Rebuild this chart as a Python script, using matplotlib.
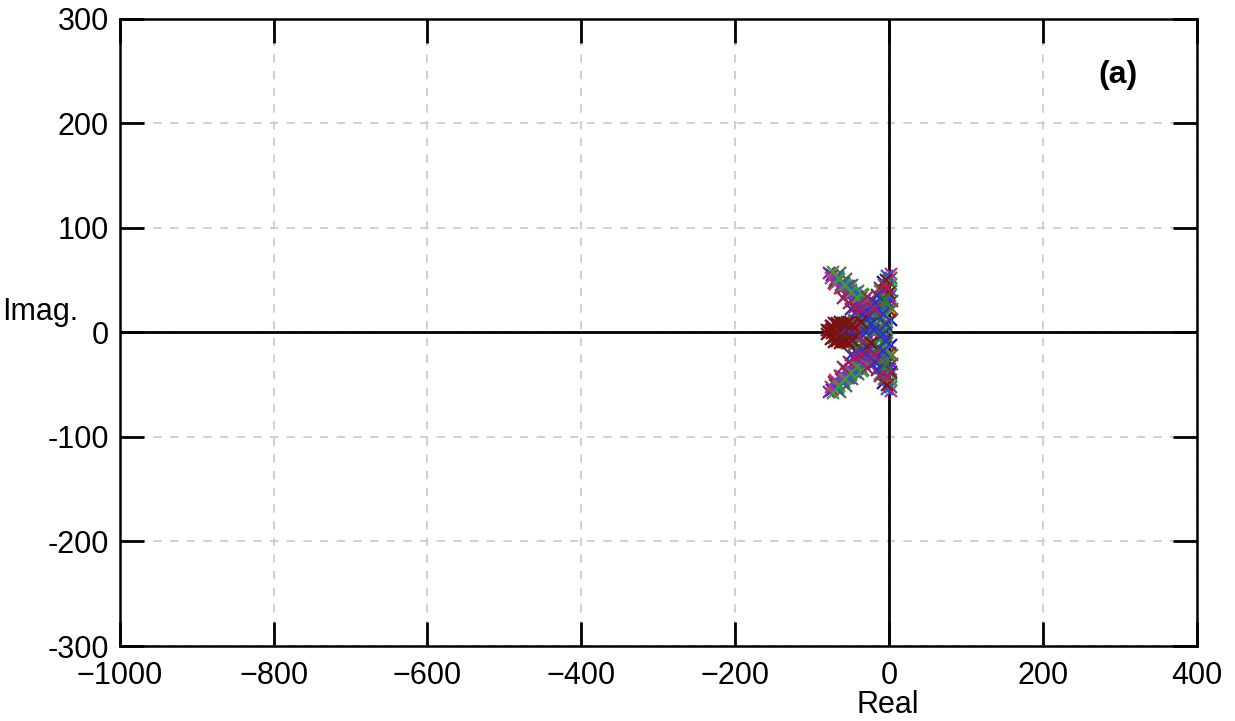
import numpy as np
import matplotlib.pyplot as plt

plt.rcParams["font.family"] = ["Liberation Sans", "DejaVu Sans"]
plt.rcParams["font.size"] = 22

# 軸の目盛りとラベル
x_ticks = [-1000, -800, -600, -400, -200, 0, 200, 400]
x_ticklabels = ["\u22121000", "\u2212800", "\u2212600", "\u2212400", "\u2212200", "0", "200", "400"]
y_ticks = [-300, -200, -100, 0, 100, 200, 300]
y_ticklabels = ["-300", "-200", "-100", "0", "100", "200", "300"]

# 極の位置 (実部, 虚部) 系列ごと
re_1 = [-74, -66, -58, -50, -42, -34, -26, -8, -3, 2, -74, -66, -58, -50, -42, -34, -26, -8, -3, 2, -70, -52, -30, -12]
im_1 = [55, 49, 43, 37, 31, 25, 19, 48, 30, 12, -55, -49, -43, -37, -31, -25, -19, -48, -30, -12, 3, -2, 4, -5]
re_2 = [-70, -62, -54, -46, -38, -30, -20, -6, -1, 3, -70, -62, -54, -46, -38, -30, -20, -6, -1, 3, -65, -45, -25, -8]
im_2 = [50, 45, 39, 33, 27, 22, 26, 40, 22, 52, -50, -45, -39, -33, -27, -22, -26, -40, -22, -52, -3, 5, -4, 2]
re_3 = [-72, -64, -56, -48, -40, -32, -24, -10, -4, 1, -72, -64, -56, -48, -40, -32, -24, -10, -4, 1, -76, -68, -60, -40]
im_3 = [47, 42, 36, 30, 25, 30, 22, 34, 44, 20, -47, -42, -36, -30, -25, -30, -22, -34, -44, -20, 2, -4, 6, -6]
re_4 = [-78, -68, -60, -52, -44, -36, -28, -14, -2, 4, -78, -68, -60, -52, -44, -36, -28, -14, -2, 4, -58, -36, -18, -4]
im_4 = [57, 52, 46, 40, 34, 28, 24, 28, 36, 30, -57, -52, -46, -40, -34, -28, -24, -28, -36, -30, 6, -5, 7, -3]
re_5 = [-66, -58, -50, -42, -36, -28, -18, -8, 0, 3, -66, -58, -50, -42, -36, -28, -18, -8, 0, 3, -72, -62, -48, -28]
im_5 = [53, 47, 41, 35, 33, 27, 20, 25, 50, 40, -53, -47, -41, -35, -33, -27, -20, -25, -50, -40, -5, 3, -6, 6]
re_6 = [-76, -70, -62, -55, -48, -40, -32, -16, -5, 2, -76, -70, -62, -55, -48, -40, -32, -16, -5, 2, -74, -56, -38, -20]
im_6 = [52, 46, 42, 44, 38, 33, 28, 22, 18, 56, -52, -46, -42, -44, -38, -33, -28, -22, -18, -56, 6, -7, 3, -2]
re_7 = [-64, -56, -48, -40, -34, -26, -12, -6, -2, 4, -64, -56, -48, -40, -34, -26, -12, -6, -2, 4, -66, -50, -34, -14]
im_7 = [57, 51, 45, 40, 36, 30, 32, 45, 10, 22, -57, -51, -45, -40, -36, -30, -32, -45, -10, -22, -6, 6, -3, 4]
re_8 = [-68, -60, -52, -44, -38, -30, -22, -10, -3, 1, -68, -60, -52, -44, -38, -30, -22, -10, -3, 1, -78, -70, -64, -54]
im_8 = [54, 48, 44, 38, 30, 25, 30, 20, 54, 35, -54, -48, -44, -38, -30, -25, -30, -20, -54, -35, 0, 2, -3, 0]
re_9 = [-73, -65, -57, -49, -41, -35, -24, -12, -4, 3, -73, -65, -57, -49, -41, -35, -24, -12, -4, 3, -44, -26, -10, -2]
im_9 = [58, 51, 45, 39, 33, 37, 14, 40, 16, 46, -58, -51, -45, -39, -33, -37, -14, -40, -16, -46, -4, 5, -6, 3]
re_10 = [-78, -74, -70, -66, -62, -58, -54, -50, -46, -42, -78, -74, -70, -66, -62, -58, -54, -50, -46, -42, -4, -2, 0, 2]
im_10 = [0, 3, -3, 5, 0, -5, 6, 2, -2, 4, 1, -1, 2, -2, 4, -4, 1, -1, 3, -3, 50, -50, 38, -38]
re_11 = [-62, -54, -46, -38, -30, -22, -14, -10, -6, -62, -54, -46, -38, -30, -22, -14, -10, -6, -36, -28, -20, -12]
im_11 = [8, 10, 12, 14, 12, 10, 14, 24, 32, -8, -10, -12, -14, -12, -10, -14, -24, -32, 6, -6, 5, -4]
re_12 = [-50, -42, -34, -26, -18, -16, -8, -4, -50, -42, -34, -26, -18, -16, -8, -4, -30, -20, -8, -56, -40, -24]
im_12 = [22, 20, 18, 16, 28, 36, 18, 8, -22, -20, -18, -16, -28, -36, -18, -8, 0, 2, -2, 3, -3, 8]
re_13 = [-60, -52, -44, -36, -28, -20, -12, -2, -60, -52, -44, -36, -28, -20, -12, -2, -68, -56, -44, -32]
im_13 = [33, 28, 24, 22, 34, 22, 42, 42, -33, -28, -24, -22, -34, -22, -42, -42, 9, -9, 7, -8]
re_14 = [-80, -76, -72, -68, -64, -60, -56, -52, -48, -80, -76, -72, -68, -64, -60, -56, -52, -48, -36, -24]
im_14 = [2, 6, 9, 8, 10, 9, 8, 10, 7, -2, -6, -9, -8, -10, -9, -8, -10, -7, 10, -10]

series = [(re_1, im_1), (re_2, im_2), (re_3, im_3), (re_4, im_4), (re_5, im_5),
          (re_6, im_6), (re_7, im_7), (re_8, im_8), (re_9, im_9), (re_10, im_10),
          (re_11, im_11), (re_12, im_12), (re_13, im_13), (re_14, im_14)]
colors = ["#1010d0", "#108a10", "#b01818", "#8a1f9a", "#1f7a7a",
          "#cc22aa", "#6b6b20", "#2a5ac8", "#3c9a3c", "#8b1010",
          "#2b7a2b", "#3030c0", "#a02060", "#7a1010"]

fig = plt.figure(figsize=(12.35, 7.21), dpi=100)
ax = fig.add_axes([0.097, 0.104, 0.872, 0.870])

ax.grid(True, color="#c8c8c8", linestyle=(0, (5, 5)), linewidth=1.2)
ax.axhline(0, color="k", linewidth=2)
ax.axvline(0, color="k", linewidth=2)

for (re, im), c in zip(series, colors):
    ax.plot(re, im, linestyle="none", marker="x", markersize=9, markeredgewidth=1.6, color=c)

ax.set_xlim(-1000, 400)
ax.set_ylim(-300, 300)
ax.set_xticks(x_ticks)
ax.set_xticklabels(x_ticklabels)
ax.set_yticks(y_ticks)
ax.set_yticklabels(y_ticklabels)
ax.tick_params(direction="in", length=17, width=2, top=True, right=True, pad=8)
ax.tick_params(axis="x", pad=11)
for s in ax.spines.values():
    s.set_linewidth(1.8)

ax.set_xlabel("Real", fontsize=22, va="center")
ax.xaxis.set_label_coords(0.713, -0.094)
ax.set_ylabel("Imag.", rotation=0, fontsize=22, ha="center", va="center")
ax.yaxis.set_label_coords(-0.074, 0.533)
ax.text(0.927, 0.911, "(a)", transform=ax.transAxes, fontsize=23, fontweight="bold",
        ha="center", va="center")

fig.savefig("out.png", dpi=100)
